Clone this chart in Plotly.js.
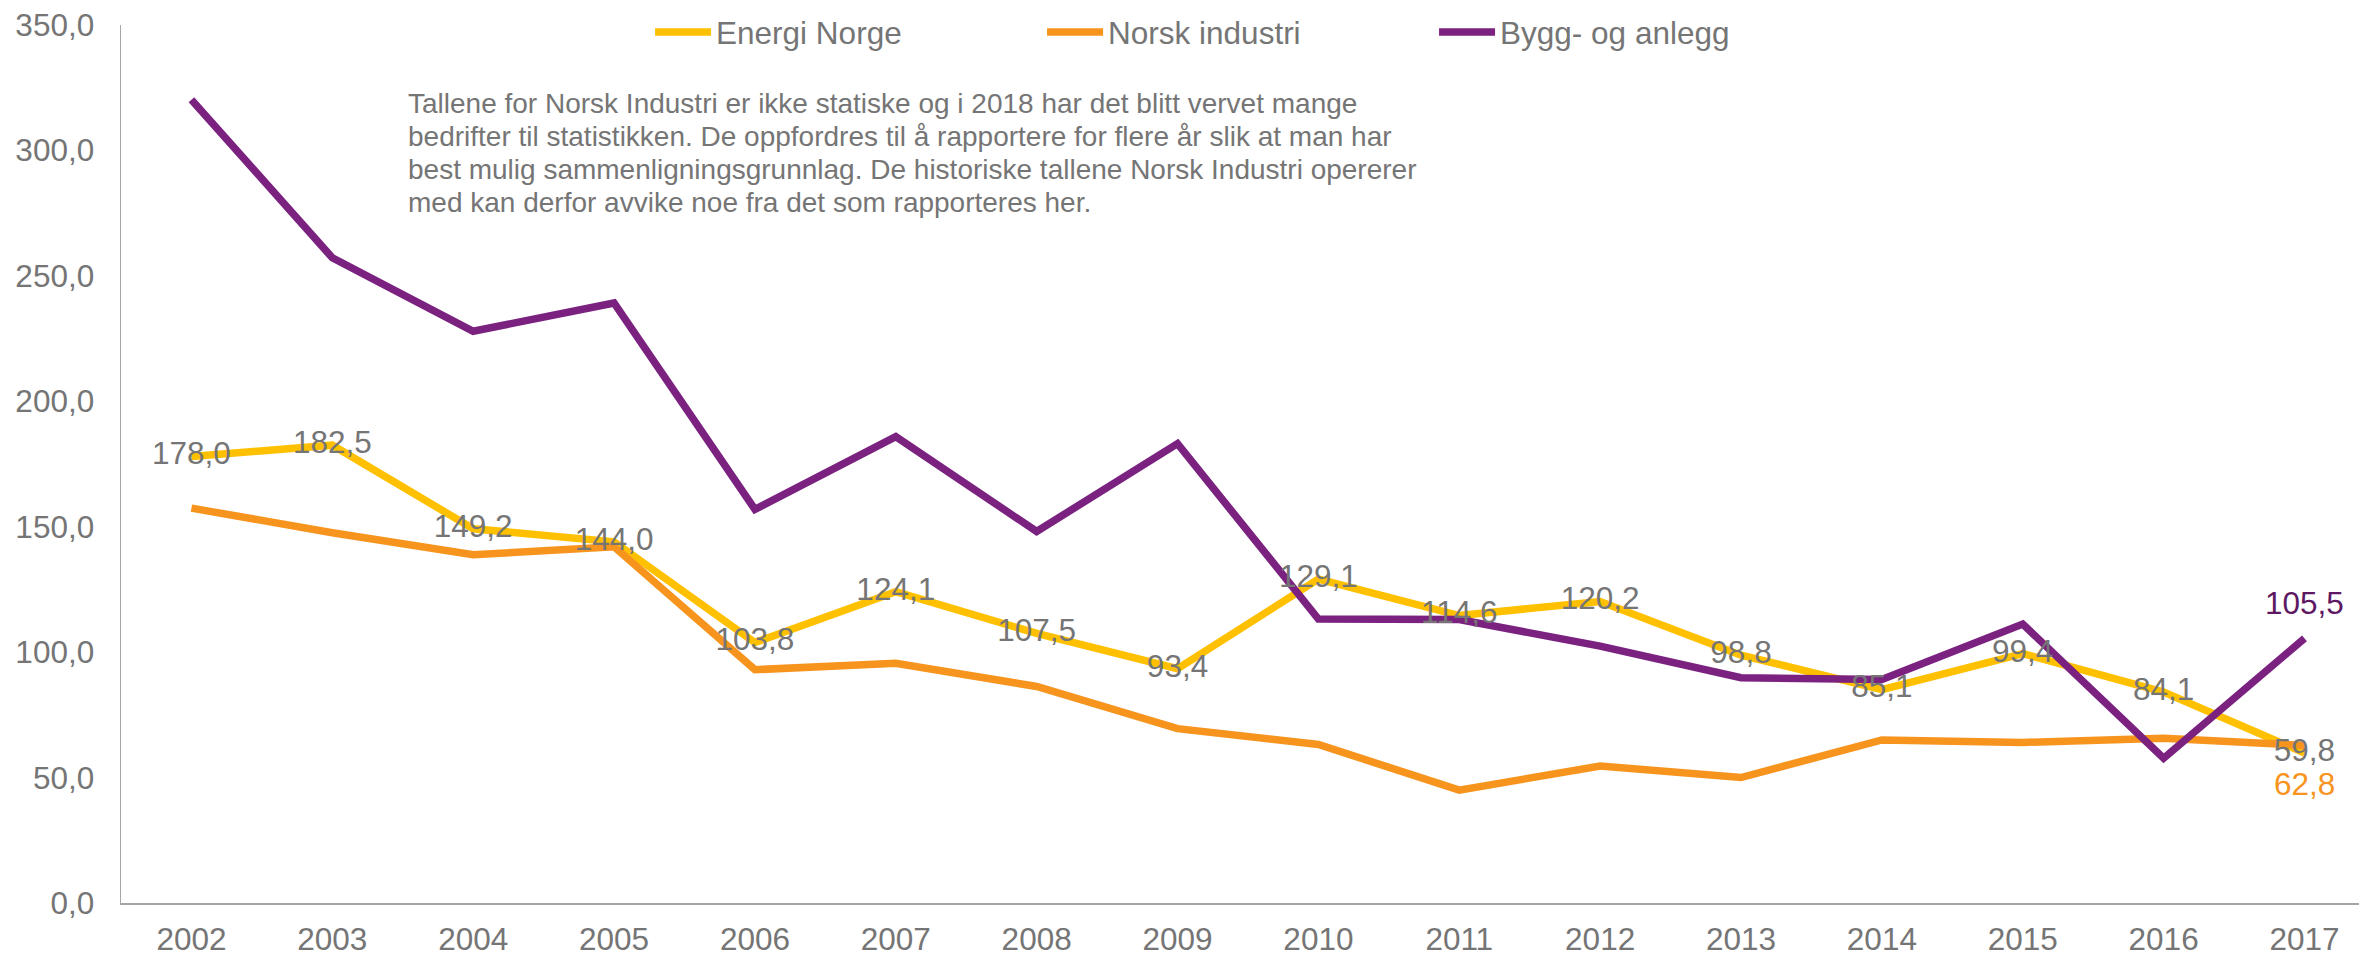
<!DOCTYPE html>
<html>
<head>
<meta charset="utf-8">
<script src="https://cdn.plot.ly/plotly-3.0.1.min.js"></script>
<style>
  html, body { margin: 0; padding: 0; background: #ffffff; }
  #chart { width: 2359px; height: 957px; }
</style>
</head>
<body>
<div id="chart"></div>
<script>
// ---- Data ----
const years = ['2002','2003','2004','2005','2006','2007','2008','2009','2010','2011','2012','2013','2014','2015','2016','2017'];
const energiNorge   = [178.0, 182.5, 149.2, 144.0, 103.8, 124.1, 107.5, 93.4, 129.1, 114.6, 120.2, 98.8, 85.1, 99.4, 84.1, 59.8];
const norskIndustri = [157.4, 147.6, 138.8, 142.0, 93.0, 95.6, 86.3, 69.5, 63.2, 45.0, 54.6, 50.0, 65.0, 64.0, 65.7, 62.8];
const byggAnlegg    = [320.2, 257.2, 227.9, 239.2, 156.9, 185.9, 148.1, 183.1, 113.2, 113.0, 102.4, 89.8, 89.1, 111.2, 57.7, 105.5];
const seriesNames = ['Energi Norge', 'Norsk industri', 'Bygg- og anlegg'];
const noteLines = [
  'Tallene for Norsk Industri er ikke statiske og i 2018 har det blitt vervet mange',
  'bedrifter til statistikken. De oppfordres til å rapportere for flere år slik at man har',
  'best mulig sammenligningsgrunnlag. De historiske tallene Norsk Industri opererer',
  'med kan derfor avvike noe fra det som rapporteres her.'
];

// ---- Styling ----
const FONT = 'Liberation Sans, Arial, sans-serif';
const GREY = '#757575';
const C_YELLOW = '#FFC000';
const C_ORANGE = '#F7941E';
const C_PURPLE = '#7B2180';
const C_PURPLE_DARK = '#5E1862';
const fmt = v => v.toFixed(1).replace('.', ',');

const last = years.length - 1;

const traces = [
  {
    x: years, y: energiNorge, name: seriesNames[0], type: 'scatter', mode: 'lines',
    line: { color: C_YELLOW, width: 7.5 }, hoverinfo: 'skip'
  },
  {
    x: years, y: norskIndustri, name: seriesNames[1], type: 'scatter', mode: 'lines',
    line: { color: C_ORANGE, width: 7.5 }, hoverinfo: 'skip'
  },
  {
    x: years, y: byggAnlegg, name: seriesNames[2], type: 'scatter', mode: 'lines',
    line: { color: C_PURPLE, width: 7.5 }, hoverinfo: 'skip'
  },
  {
    // data labels for Energi Norge (drawn on top, like the original)
    x: years, y: energiNorge, type: 'scatter', mode: 'text', showlegend: false,
    text: energiNorge.map(fmt), textposition: 'middle center',
    textfont: { family: FONT, size: 31.5, color: GREY }, hoverinfo: 'skip'
  }
];

const annotations = [
  {
    // category axis: position by serial index of the last category
    xref: 'x', yref: 'y', x: last, y: norskIndustri[last],
    text: fmt(norskIndustri[last]), showarrow: false, yshift: -39,
    font: { family: FONT, size: 31.5, color: C_ORANGE }
  },
  {
    xref: 'x', yref: 'y', x: last, y: byggAnlegg[last],
    text: fmt(byggAnlegg[last]), showarrow: false, yshift: 35,
    font: { family: FONT, size: 31.5, color: C_PURPLE_DARK }
  }
];

// note text: one annotation per line to match the original's tighter line spacing
const NOTE_TOP_PAPER = 0.9107;   // centre of first line
const NOTE_STEP_PAPER = 0.0376;  // line spacing
noteLines.forEach((line, i) => {
  annotations.push({
    xref: 'paper', yref: 'paper', x: 0.1273, y: NOTE_TOP_PAPER - i * NOTE_STEP_PAPER,
    xanchor: 'left', yanchor: 'middle', align: 'left', showarrow: false,
    text: line, font: { family: FONT, size: 28, color: GREY }
  });
});

const layout = {
  width: 2359, height: 957,
  margin: { l: 121, r: 0, t: 25, b: 54, pad: 0 },
  paper_bgcolor: '#ffffff', plot_bgcolor: '#ffffff',
  separators: ', ',
  font: { family: FONT, size: 31.5, color: GREY },
  showlegend: true,
  legend: {
    orientation: 'h', x: 0.2364, xanchor: 'left', y: 0.992, yanchor: 'middle',
    font: { family: FONT, size: 31.5, color: GREY },
    itemwidth: 56, entrywidth: 321, entrywidthmode: 'pixels',
    bgcolor: 'rgba(0,0,0,0)', borderwidth: 0, traceorder: 'normal'
  },
  xaxis: {
    type: 'category', range: [-0.5, 15.387],
    showline: true, linecolor: '#a6a6a6', linewidth: 1.5,
    showgrid: false, zeroline: false, ticks: '',
    ticklabelstandoff: 8,
    tickfont: { family: FONT, size: 31.5, color: GREY },
    fixedrange: true
  },
  yaxis: {
    range: [0, 350], dtick: 50, tick0: 0, tickformat: '.1f',
    showline: true, linecolor: '#a6a6a6', linewidth: 1.5,
    showgrid: false, zeroline: false, ticks: '',
    ticklabelstandoff: 19,
    tickfont: { family: FONT, size: 31.5, color: GREY },
    fixedrange: true
  },
  annotations: annotations
};

Plotly.newPlot('chart', traces, layout, { staticPlot: true, displayModeBar: false });
</script>
</body>
</html>
